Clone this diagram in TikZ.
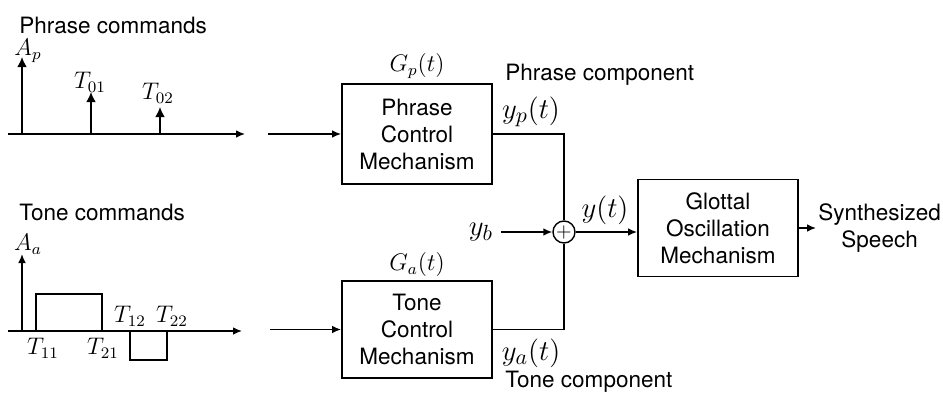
\documentclass[tikz,border=0pt]{standalone}
\usepackage{fontspec}
\setmainfont{TeX Gyre Heros}
\usetikzlibrary{arrows.meta, positioning}

\begin{document}
\begin{tikzpicture}[
    x=0.5pt, y=-0.5pt,
    >={Latex[length=4.5pt, width=3.8pt]},
    every node/.style={font=\fontsize{11.25}{13.5}\selectfont},
    blk/.style={draw, line width=0.9pt, align=center, inner sep=0pt,
                minimum width=75pt, minimum height=48.5pt},
    sig/.style={line width=0.7pt},
    imp/.style={sig, -{Latex[length=5pt, width=4.8pt]}},
    tlab/.style={font=\fontsize{12}{12}\selectfont, inner sep=0pt},
    ylab/.style={font=\fontsize{15}{15}\selectfont, inner sep=0pt},
    glab/.style={font=\fontsize{11.5}{11.5}\selectfont, inner sep=0pt}]
  \useasboundingbox (0,0) rectangle (943,392);

  % phrase commands: impulses on a time axis
  \node[anchor=west, inner sep=0pt] (phrasecmd) at (19,25) {Phrase commands};
  \draw[sig, ->] (8,134) -- (245,134);
  \foreach \x/\top/\lx/\ly/\txt in {22/57/28/51/{A_p}, 91/92/90/82/{T_{01}}, 160/107/158/93/{T_{02}}} {
    \draw[imp] (\x,134) -- (\x,\top);
    \node[tlab] (plab-\x) at (\lx,\ly) {$\txt$};
  }

  % tone commands: step pulses on a time axis
  \node[anchor=west, inner sep=0pt] (tonecmd) at (19,212) {Tone commands};
  \draw[sig, ->] (8,331) -- (242,331);
  \draw[sig, ->] (22,331) -- (22,254);
  \draw[sig] (36,331) rectangle (102,294);
  \draw[sig] (130,331) rectangle (167,360);
  \node[tlab] (aa) at (28,244) {$A_a$};
  \foreach \lx/\ly/\txt in {43/348/{T_{11}}, 103/348/{T_{21}}, 130/316/{T_{12}}, 172/316/{T_{22}}} {
    \node[tlab] (tlab-\lx) at (\lx,\ly) {$\txt$};
  }

  % blocks
  \node[blk, minimum height=50pt] (phrasebox) at (417,134) {Phrase\\Control\\Mechanism};
  \node[blk] (tonebox) at (417,329.5) {Tone\\Control\\Mechanism};
  \node[blk, minimum width=80pt] (glottal) at (718,228) {Glottal\\Oscillation\\Mechanism};
  \node[circle, draw, line width=0.7pt, minimum size=11pt, inner sep=0pt,
        font=\fontsize{10}{10}\selectfont] (sum) at (564,232) {$+$};

  \node[glab, above=2pt of phrasebox] (gp) {$G_p(t)$};
  \node[glab, above=1.5pt of tonebox] (ga) {$G_a(t)$};

  % connectors
  \coordinate (phin) at (268,134);
  \coordinate (tnin) at (270,329.5);
  \draw[sig, ->] (phin) -- (phrasebox.west);
  \draw[sig, ->] (tnin) -- (tonebox.west);
  \draw[sig] (phrasebox.east) -| (sum.north);
  \draw[sig] (tonebox.east) -| (sum.south);

  \node[ylab] (yb) at (481,232) {$y_b$};
  \draw[sig, ->] ([xshift=4pt]yb.east |- sum) -- (sum.west);
  \draw[sig, ->] (sum.east) -- (sum.east -| glottal.west);
  \node[anchor=west, align=center, inner sep=1pt] (speech) at (816,228) {Synthesized\\Speech};
  \draw[sig, ->] (glottal.east) -- (speech.west);

  % signal labels
  \node[ylab] (yp) at (531,112) {$y_p(t)$};
  \node[ylab] (ya) at (531,353) {$y_a(t)$};
  \node[ylab] (yt) at (605,210) {$y(t)$};
  \node[anchor=west, inner sep=0pt] (phrasecomp) at (505,75) {Phrase component};
  \node[anchor=west, inner sep=0pt] (tonecomp) at (505,382) {Tone component};
\end{tikzpicture}
\end{document}
